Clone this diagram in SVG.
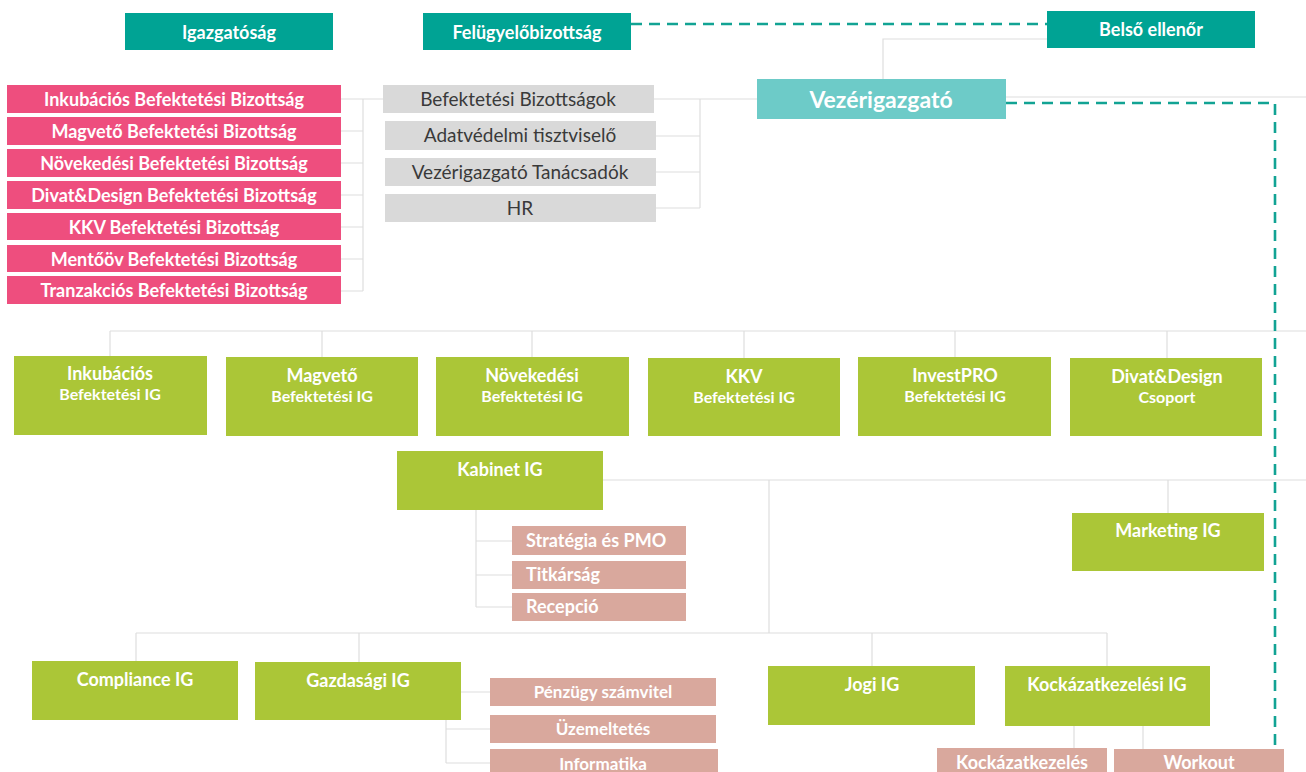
<svg xmlns="http://www.w3.org/2000/svg" width="1306" height="772" viewBox="0 0 1306 772">
<style>
  .teal{fill:#00a394}
  .vez{fill:#6dcbc8}
  .pink{fill:#ee4e7e}
  .gray{fill:#d9d9d9}
  .green{fill:#abc637}
  .salmon{fill:#d9a89d}
  text{font-family:Lato,"Open Sans","Liberation Sans",sans-serif;font-weight:700;fill:#ffffff;text-anchor:middle}
  .t18{font-size:18px}
  .t17{font-size:17px}
  .t16{font-size:16px}
  .t23{font-size:23px}
  .dark{fill:#3a3a3a;font-weight:400;font-size:19px}
  .left{text-anchor:start}
  .ln{stroke:#dedede;stroke-width:1.2;fill:none}
  .dash{stroke:#12a394;stroke-width:2.6;fill:none;stroke-dasharray:11 7}
</style>
<g id="connectors">
  <path class="ln" d="M341 99H383M341 131H363M341 163H363M341 195H363M341 227H363M341 259H363M341 291H363M363 99V291"/>
  <path class="ln" d="M654 99H757M656 136H700M656 172H700M656 208H700M700 99V208"/>
  <path class="ln" d="M1047 39H883V79"/>
  <path class="ln" d="M1006 97H1306"/>
  <path class="ln" d="M110 331H1306M110 331V356M322 331V357M532 331V357M744 331V358M955 331V357M1167 331V358"/>
  <path class="ln" d="M603 480H1306M769 480V633M1168 480V513"/>
  <path class="ln" d="M476 510V607M476 541H512M476 575H512M476 607H512"/>
  <path class="ln" d="M136 633H1107M136 633V661M359 633V662M872 633V666M1107 633V666"/>
  <path class="ln" d="M461 692H490M446 720V763M446 729H490M446 763H490"/>
  <path class="ln" d="M1074 726V748M1143 726V749"/>
  <path class="dash" d="M631 24H1047"/>
  <path class="dash" d="M1006 103H1275V748"/>
</g>
<g id="igazgatosag"><rect class="teal" x="125" y="13" width="208" height="37"/><text class="t18" x="229" y="39">Igazgatóság</text></g>
<g id="felugyelobizottsag"><rect class="teal" x="423" y="13" width="208" height="37"/><text class="t18" x="527" y="39">Felügyelőbizottság</text></g>
<g id="belso-ellenor"><rect class="teal" x="1047" y="11" width="208" height="37"/><text class="t18" x="1151" y="36">Belső ellenőr</text></g>
<g id="vezerigazgato"><rect class="vez" x="757" y="79" width="249" height="40"/><text class="t23" x="881" y="108">Vezérigazgató</text></g>

<g id="bb-inkubacios"><rect class="pink" x="7" y="85" width="334" height="28"/><text class="t18" x="174" y="106">Inkubációs Befektetési Bizottság</text></g>
<g id="bb-magveto"><rect class="pink" x="7" y="117" width="334" height="28"/><text class="t18" x="174" y="138">Magvető Befektetési Bizottság</text></g>
<g id="bb-novekedesi"><rect class="pink" x="7" y="149" width="334" height="28"/><text class="t18" x="174" y="170">Növekedési Befektetési Bizottság</text></g>
<g id="bb-divat"><rect class="pink" x="7" y="181" width="334" height="28"/><text class="t18" x="174" y="202">Divat&amp;Design Befektetési Bizottság</text></g>
<g id="bb-kkv"><rect class="pink" x="7" y="213" width="334" height="27"/><text class="t18" x="174" y="234">KKV Befektetési Bizottság</text></g>
<g id="bb-mentoov"><rect class="pink" x="7" y="245" width="334" height="27"/><text class="t18" x="174" y="266">Mentőöv Befektetési Bizottság</text></g>
<g id="bb-tranzakcios"><rect class="pink" x="7" y="276" width="334" height="28"/><text class="t18" x="174" y="297">Tranzakciós Befektetési Bizottság</text></g>

<g id="befektetesi-bizottsagok"><rect class="gray" x="383" y="85" width="271" height="28"/><text class="dark" x="518" y="106">Befektetési Bizottságok</text></g>
<g id="adatvedelmi"><rect class="gray" x="385" y="121" width="271" height="29"/><text class="dark" x="520" y="142">Adatvédelmi tisztviselő</text></g>
<g id="tanacsadok"><rect class="gray" x="385" y="158" width="271" height="28"/><text class="dark" x="520" y="179">Vezérigazgató Tanácsadók</text></g>
<g id="hr"><rect class="gray" x="385" y="194" width="271" height="28"/><text class="dark" x="520" y="215">HR</text></g>

<g id="ig-inkubacios"><rect class="green" x="14" y="356" width="193" height="79"/><text class="t18" x="110" y="380">Inkubációs</text><text class="t16" x="110" y="400">Befektetési IG</text></g>
<g id="ig-magveto"><rect class="green" x="226" y="357" width="192" height="79"/><text class="t18" x="322" y="382">Magvető</text><text class="t16" x="322" y="402">Befektetési IG</text></g>
<g id="ig-novekedesi"><rect class="green" x="436" y="357" width="193" height="79"/><text class="t18" x="532" y="382">Növekedési</text><text class="t16" x="532" y="402">Befektetési IG</text></g>
<g id="ig-kkv"><rect class="green" x="648" y="358" width="192" height="78"/><text class="t18" x="744" y="383">KKV</text><text class="t16" x="744" y="403">Befektetési IG</text></g>
<g id="ig-investpro"><rect class="green" x="858" y="357" width="193" height="79"/><text class="t18" x="955" y="382">InvestPRO</text><text class="t16" x="955" y="402">Befektetési IG</text></g>
<g id="divat-csoport"><rect class="green" x="1070" y="358" width="192" height="78"/><text class="t18" x="1167" y="383">Divat&amp;Design</text><text class="t16" x="1167" y="403">Csoport</text></g>

<g id="kabinet-ig"><rect class="green" x="397" y="451" width="206" height="59"/><text class="t18" x="500" y="476">Kabinet IG</text></g>
<g id="strategia"><rect class="salmon" x="512" y="526" width="174" height="29"/><text class="t18 left" x="526" y="547">Stratégia és PMO</text></g>
<g id="titkarsag"><rect class="salmon" x="512" y="561" width="174" height="28"/><text class="t18 left" x="526" y="581">Titkárság</text></g>
<g id="recepcio"><rect class="salmon" x="512" y="593" width="174" height="28"/><text class="t18 left" x="526" y="613">Recepció</text></g>

<g id="marketing-ig"><rect class="green" x="1072" y="513" width="192" height="58"/><text class="t18" x="1168" y="537">Marketing IG</text></g>

<g id="compliance-ig"><rect class="green" x="32" y="661" width="206" height="59"/><text class="t18" x="135" y="686">Compliance IG</text></g>
<g id="gazdasagi-ig"><rect class="green" x="255" y="662" width="206" height="58"/><text class="t18" x="358" y="687">Gazdasági IG</text></g>
<g id="penzugy"><rect class="salmon" x="490" y="678" width="226" height="28"/><text class="t17" x="603" y="698">Pénzügy számvitel</text></g>
<g id="uzemeltetes"><rect class="salmon" x="490" y="715" width="226" height="28"/><text class="t17" x="603" y="735">Üzemeltetés</text></g>
<g id="informatika"><rect class="salmon" x="490" y="749" width="228" height="30"/><text class="t17" x="603" y="770">Informatika</text></g>

<g id="jogi-ig"><rect class="green" x="768" y="666" width="207" height="59"/><text class="t18" x="872" y="691">Jogi IG</text></g>
<g id="kockazatkezelesi-ig"><rect class="green" x="1005" y="666" width="205" height="60"/><text class="t18" x="1107" y="691">Kockázatkezelési IG</text></g>
<g id="kockazatkezeles"><rect class="salmon" x="937" y="748" width="170" height="30"/><text class="t18" x="1022" y="769">Kockázatkezelés</text></g>
<g id="workout"><rect class="salmon" x="1114" y="749" width="170" height="30"/><text class="t18" x="1199" y="769">Workout</text></g>
</svg>
